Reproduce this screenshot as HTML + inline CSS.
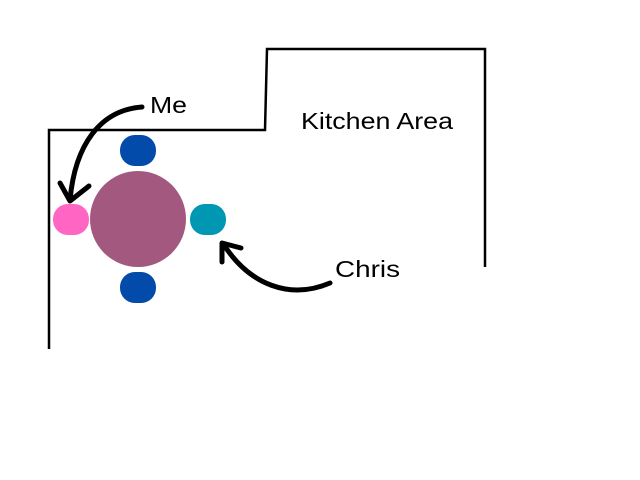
<!DOCTYPE html>
<html><head><style>body{margin:0;background:#fff}</style></head><body>
<svg width="640" height="480" xmlns="http://www.w3.org/2000/svg" style="display:block">
<rect width="640" height="480" fill="#fff"/>
<g fill="none" stroke="#000" stroke-width="2.5">
<polyline points="49,349 49,130 265,130 267,49 485,49 485,267"/>
</g>
<circle cx="138" cy="219" r="48" fill="#a3597f"/>
<rect x="120" y="135" width="36" height="31" rx="15" fill="#024bab"/>
<rect x="120" y="272" width="36" height="31" rx="15" fill="#024bab"/>
<rect x="53" y="204" width="36" height="31" rx="15" fill="#ff66c4"/>
<rect x="190" y="204" width="36" height="31" rx="15" fill="#0097b2"/>
<g fill="none" stroke="#000" stroke-width="5" stroke-linecap="round" stroke-linejoin="round">
<path d="M142,107 C100,110 75,145 70,200"/>
<path d="M60,183 L70,201 L89,186"/>
<path d="M330,283 C290,300 250,285 224,245"/>
<path d="M222,262 L222,243 L241,248"/>
</g>
<g font-family="Liberation Sans, sans-serif" font-size="23" fill="#000">
<text x="150" y="113" textLength="37" lengthAdjust="spacingAndGlyphs">Me</text>
<text x="301" y="129" textLength="152" lengthAdjust="spacingAndGlyphs">Kitchen Area</text>
<text x="335" y="277" textLength="65" lengthAdjust="spacingAndGlyphs">Chris</text>
</g>
</svg>
</body></html>
